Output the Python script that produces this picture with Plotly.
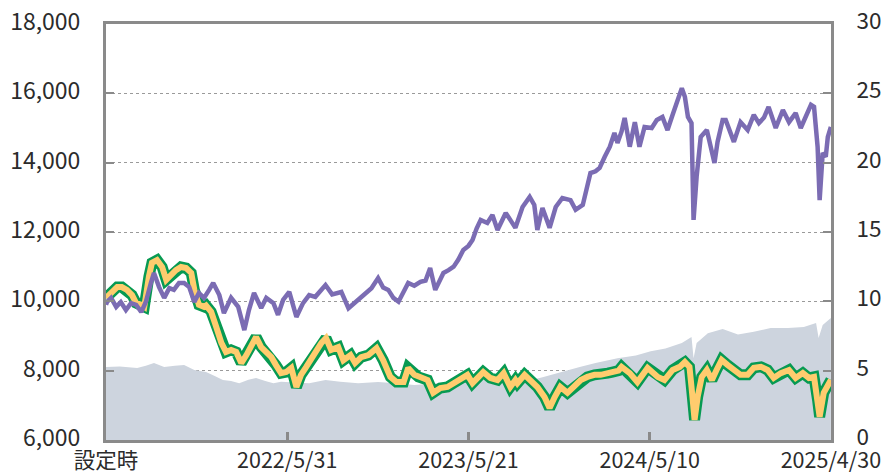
import pandas as pd
import plotly.graph_objects as go

INCEPTION = "2021-06-10"

# 基準価額 (left axis, 円)
nav_days = [0, 2, 10, 20, 29, 39, 49, 59, 69, 78, 88, 94, 104, 114, 124, 133, 143, 153, 163, 173,
            182, 192, 202, 210, 222, 231, 245, 259, 271, 280, 290, 304, 314, 328, 337, 347, 359, 373,
            386, 398, 410, 430, 443, 461, 475, 494, 508, 520, 533, 543, 553, 563, 573, 583, 592, 604,
            616, 626, 635, 645, 661, 671, 681, 690, 700, 710, 718, 726, 734, 747, 757, 767, 775, 783,
            792, 802, 816, 830, 839, 845, 855, 863, 869, 881, 894, 910, 920, 934, 943, 949, 959, 967,
            977, 987, 996, 1002, 1010, 1016, 1026, 1036, 1045, 1055, 1069, 1079, 1090, 1100, 1110,
            1120, 1128, 1134, 1140, 1147, 1151, 1157, 1165, 1177, 1187, 1192, 1198, 1208, 1214, 1222,
            1230, 1243, 1257, 1269, 1279, 1289, 1298, 1312, 1326, 1338, 1351, 1361, 1371, 1381, 1387,
            1394, 1398, 1404, 1410, 1414, 1420]
nav_values = [9900, 9980, 10100, 9840, 9980, 9750, 9950, 9900, 9690, 9980, 10530, 10820, 10410, 10100,
              10380, 10330, 10530, 10530, 10410, 9980, 10240, 10100, 10330, 10530, 10180, 9660, 10100,
              9840, 9170, 9750, 10240, 9810, 10100, 9950, 9610, 10040, 10270, 9550, 9950, 10180, 10130,
              10470, 10200, 10270, 9800, 10030, 10200, 10380, 10670, 10400, 10330, 10100, 9990, 10250,
              10530, 10450, 10560, 10600, 10960, 10330, 10820, 10900, 11000, 11200, 11480, 11600, 11770,
              12100, 12350, 12260, 12490, 12060, 12300, 12550, 12350, 12120, 12720, 13010, 12780, 12060,
              12690, 12400, 12120, 12720, 12980, 12920, 12640, 12780, 13300, 13700, 13750, 13850, 14170,
              14460, 14860, 14570, 14900, 15290, 14460, 15170, 14460, 15030, 15000, 15230, 15320, 14940,
              15380, 15870, 16150, 15900, 15320, 15140, 12350, 13590, 14740, 14940, 14370, 13990, 14600,
              15230, 15230, 14900, 14600, 15170, 14940, 15380, 15140, 15300, 15610, 15000, 15520, 15170,
              15430, 15000, 15320, 15670, 15610, 14460, 12920, 14280, 14170, 14740, 15030]

# 参考指数 (left axis)
ref_days = [0, 10, 22, 31, 41, 51, 59, 69, 75, 84, 90, 100, 110, 118, 127, 137, 147, 157, 167, 173,
            182, 192, 196, 206, 216, 226, 235, 245, 255, 265, 275, 284, 294, 304, 314, 324, 333, 343,
            353, 363, 373, 382, 392, 402, 410, 422, 431, 441, 455, 465, 479, 488, 500, 514, 530, 543,
            557, 569, 583, 592, 604, 612, 630, 641, 655, 669, 681, 694, 708, 718, 728, 739, 753, 767,
            779, 792, 802, 806, 820, 832, 845, 859, 869, 879, 890, 904, 918, 930, 943, 957, 969, 983,
            992, 1004, 1010, 1026, 1041, 1061, 1081, 1094, 1110, 1124, 1134, 1143, 1147, 1153, 1159,
            1167, 1177, 1187, 1196, 1206, 1218, 1230, 1243, 1257, 1269, 1283, 1296, 1308, 1322, 1338,
            1351, 1365, 1377, 1387, 1394, 1398, 1406, 1414, 1420]
ref_values = [10100, 10270, 10410, 10410, 10330, 10180, 9950, 9900, 9840, 10710, 11110, 11190, 10990,
              10620, 10760, 10900, 10990, 10960, 10820, 10330, 9900, 9840, 9880, 9700, 9260, 8800, 8540,
              8600, 8540, 8220, 8450, 8680, 8970, 8680, 8510, 8390, 8160, 7930, 7960, 8080, 7530, 7880,
              8100, 8350, 8510, 8800, 8940, 8600, 8680, 8300, 8450, 8220, 8390, 8450, 8650, 8300, 7820,
              7670, 7670, 8080, 7880, 7820, 7730, 7360, 7500, 7530, 7640, 7730, 7880, 7640, 7820, 7960,
              7790, 7730, 7930, 7530, 7730, 7640, 7880, 7730, 7530, 7240, 6920, 7240, 7530, 7360, 7530,
              7730, 7820, 7880, 7880, 7930, 7960, 8000, 8110, 7930, 7670, 8080, 7820, 7730, 8020, 8110,
              8250, 8110, 7530, 6580, 7240, 7820, 8020, 7730, 8020, 8310, 8160, 8020, 7880, 7880, 8080,
              8110, 8020, 7790, 7930, 8020, 7790, 7930, 7790, 7820, 7150, 6670, 7360, 7590, 7730]

# 純資産総額 (right axis, 億円)
aum_days = [0, 27, 61, 78, 94, 114, 135, 153, 173, 196, 214, 229, 245, 261, 279, 294, 312, 328, 343,
            359, 379, 398, 430, 459, 494, 533, 567, 604, 635, 661, 694, 728, 773, 804, 832, 857, 871,
            894, 928, 959, 1002, 1038, 1067, 1096, 1128, 1147, 1151, 1157, 1179, 1208, 1238, 1269, 1302,
            1336, 1367, 1391, 1396, 1404, 1420]
aum_values = [5.26, 5.3, 5.2, 5.35, 5.55, 5.26, 5.35, 5.4, 5.05, 4.9, 4.6, 4.33, 4.25, 4.1, 4.35, 4.47,
              4.25, 4.1, 4.2, 4.18, 4.15, 4.1, 4.33, 4.2, 4.1, 4.18, 4.1, 3.96, 4.05, 4.1, 4.2, 4.33,
              4.3, 4.33, 4.3, 4.54, 4.69, 4.9, 5.26, 5.55, 5.9, 6.1, 6.4, 6.6, 7.0, 7.43, 5.9, 7.0, 7.7,
              8.0, 7.6, 7.8, 8.07, 8.07, 8.15, 8.44, 7.35, 8.29, 8.8]

x_tick_dates = ["2021-06-10", "2022-05-31", "2023-05-21", "2024-05-10", "2025-04-30"]
x_tick_text = ["設定時", "2022/5/31", "2023/5/21", "2024/5/10", "2025/4/30"]
left_ticks = [6000, 8000, 10000, 12000, 14000, 16000, 18000]
right_ticks = [0, 5, 10, 15, 20, 25, 30]

start = pd.Timestamp(INCEPTION)


def to_dates(days):
    return [start + pd.Timedelta(days=d) for d in days]


PURPLE = "#7b6cb3"
YELLOW = "#ffcc6e"
GREEN = "#079a52"
GREY_FILL = "#cdd4de"
AXIS = "#8a8a8a"
TEXT = "#2b2b2b"
FONT = "Noto Sans CJK JP"

fig = go.Figure()
fig.add_trace(go.Scatter(x=to_dates(aum_days), y=aum_values, yaxis="y", mode="lines",
                         fill="tozeroy", fillcolor=GREY_FILL, line=dict(width=0, color=GREY_FILL),
                         hoverinfo="skip"))
fig.add_trace(go.Scatter(x=to_dates(ref_days), y=ref_values, yaxis="y2", mode="lines",
                         line=dict(width=11, color=GREEN)))
fig.add_trace(go.Scatter(x=to_dates(ref_days), y=ref_values, yaxis="y2", mode="lines",
                         line=dict(width=6, color=YELLOW)))
fig.add_trace(go.Scatter(x=to_dates(nav_days), y=nav_values, yaxis="y2", mode="lines",
                         line=dict(width=4.5, color=PURPLE)))

x_end = pd.Timestamp(x_tick_dates[-1]) + pd.Timedelta(hours=6)

fig.update_layout(
    width=881, height=473,
    margin=dict(l=106, r=50, t=24, b=33),
    paper_bgcolor="white", plot_bgcolor="white",
    showlegend=False,
    font=dict(family=FONT, color=TEXT, size=22),
    xaxis=dict(
        type="date", range=[x_tick_dates[0], x_end],
        tickvals=x_tick_dates, ticktext=x_tick_text,
        showgrid=False, zeroline=False, automargin=False,
        showline=True, linecolor=AXIS, linewidth=3, mirror=True,
        ticks="inside", ticklen=8, tickwidth=3, tickcolor=AXIS,
        ticklabeloverflow="allow", ticklabelstandoff=-1,
        tickfont=dict(size=21.5, family=FONT, color=TEXT),
    ),
    yaxis=dict(
        side="right", range=[0, 30], tickvals=right_ticks,
        showgrid=False, zeroline=False, automargin=False,
        showline=True, linecolor=AXIS, linewidth=3,
        ticks="inside", ticklen=8, tickwidth=2, tickcolor=AXIS,
        ticklabelstandoff=18, ticklabeloverflow="allow", ticklabelshift=-3,
        tickfont=dict(size=22.5, family=FONT, color=TEXT),
    ),
    yaxis2=dict(
        overlaying="y", side="left", range=[6000, 18000], tickvals=left_ticks,
        tickformat=",d",
        showgrid=True, gridcolor="#9a9a9a", gridwidth=1, griddash="dot",
        zeroline=False, automargin=False,
        showline=True, linecolor=AXIS, linewidth=3,
        ticks="inside", ticklen=8, tickwidth=2, tickcolor=AXIS,
        ticklabelstandoff=18, ticklabeloverflow="allow", ticklabelshift=-2,
        tickfont=dict(size=23, family=FONT, color=TEXT),
    ),
)

fig.write_html("out.html", config={"displayModeBar": False},
               post_script="document.body.style.margin='0';")
